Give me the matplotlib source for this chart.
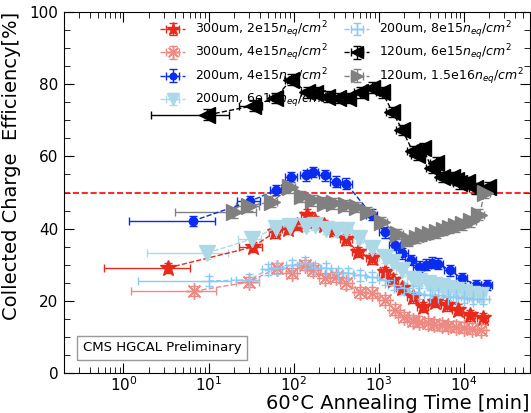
import numpy as np
import matplotlib
matplotlib.use("Agg")
import matplotlib.pyplot as plt
from matplotlib.ticker import MultipleLocator, LogLocator, NullFormatter

# ---- data (annealing time [min], collected charge efficiency [%]) ----
t_300_2e15 = [3.3, 33, 60, 85, 110, 142, 180, 230, 300, 418, 565, 828, 1170, 1460, 1860, 2500, 3300, 4550, 6300, 8500, 11700, 16700]
v_300_2e15 = [29.1, 34.9, 39.0, 40.0, 41.0, 43.8, 42.0, 41.0, 39.5, 37.0, 33.5, 31.8, 28.0, 25.8, 23.5, 21.0, 18.3, 19.7, 18.8, 17.5, 16.0, 15.2]

t_300_4e15 = [6.8, 30, 63, 95, 135, 167, 232, 318, 418, 596, 828, 1170, 1540, 2000, 2500, 3000, 3800, 4500, 5500, 6500, 8000, 10000, 12500, 16000]
v_300_4e15 = [22.7, 25.2, 29.1, 27.7, 29.9, 28.5, 26.3, 26.6, 24.9, 22.4, 22.2, 20.2, 17.5, 15.5, 14.5, 14.2, 13.8, 13.5, 13.2, 13.0, 12.8, 12.6, 12.3, 12.0]

t_200_4e15 = [6.5, 31, 62, 94, 138, 167, 232, 318, 418, 828, 1170, 1540, 1900, 2400, 3000, 3600, 4200, 5000, 6800, 9400, 14000, 18500]
v_200_4e15 = [42.1, 47.6, 50.7, 54.3, 54.8, 55.7, 54.8, 53.0, 52.4, 43.8, 39.0, 35.5, 33.2, 31.3, 29.4, 30.0, 30.5, 30.3, 28.5, 26.3, 24.4, 24.4]

t_200_6e15 = [9.5, 32, 62, 90, 138, 177, 240, 320, 418, 580, 828, 1170, 1460, 1860, 2500, 3000, 3800, 4500, 5500, 6500, 8000, 10000, 12500, 16000]
v_200_6e15 = [33.2, 37.1, 40.2, 40.7, 40.8, 41.0, 40.0, 39.5, 39.6, 37.4, 34.5, 32.0, 30.7, 28.5, 26.0, 25.5, 25.0, 24.5, 24.0, 23.5, 23.0, 22.5, 22.0, 21.5]

t_200_8e15 = [10, 30, 50, 63, 95, 135, 180, 240, 330, 430, 600, 830, 1170, 1500, 2000, 2500, 3000, 4000, 5000, 6500, 8000, 10000, 13000, 17000]
v_200_8e15 = [25.5, 25.8, 28.7, 29.0, 29.9, 30.5, 29.0, 29.0, 27.7, 27.7, 27.1, 26.6, 25.8, 24.5, 23.5, 22.5, 22.0, 21.5, 21.5, 21.0, 21.0, 20.8, 20.5, 20.5]

t_120_6e15 = [9.7, 33, 61, 94, 142, 177, 245, 330, 430, 595, 830, 1100, 1450, 1900, 2500, 2800, 3300, 4200, 4700, 5600, 7200, 8200, 8900, 10800, 13400, 19000]
v_120_6e15 = [71.5, 74.0, 76.2, 81.3, 77.8, 77.6, 76.5, 76.2, 76.2, 77.8, 79.0, 77.8, 72.3, 67.3, 61.5, 60.4, 62.3, 56.8, 58.2, 54.3, 54.3, 53.5, 52.6, 52.9, 51.2, 51.5]

t_120_15e15 = [20, 30, 56, 90, 124, 167, 232, 300, 418, 550, 740, 1100, 1670, 2300, 2800, 3300, 4000, 4800, 5800, 6800, 8200, 9800, 12000, 15200, 17700]
v_120_15e15 = [44.5, 46.3, 47.4, 51.5, 49.0, 47.8, 47.2, 47.0, 46.5, 46.0, 44.6, 41.8, 38.5, 36.8, 37.5, 38.2, 38.5, 39.0, 39.6, 40.2, 40.6, 41.2, 42.0, 43.8, 50.0]

labels = [
    r"300um, 2e15$n_{eq}/cm^2$",
    r"300um, 4e15$n_{eq}/cm^2$",
    r"200um, 4e15$n_{eq}/cm^2$",
    r"200um, 6e15$n_{eq}/cm^2$",
    r"200um, 8e15$n_{eq}/cm^2$",
    r"120um, 6e15$n_{eq}/cm^2$",
    r"120um, 1.5e16$n_{eq}/cm^2$",
]
first_xerr_frac = [0.82, 0.82, 0.82, 0.80, 0.85, 0.78, 0.80]

series = [
    (t_300_2e15, v_300_2e15, "#e8291c", "*", 12),
    (t_300_4e15, v_300_4e15, "#ec8a84", (8, 2, 0), 12),
    (t_200_4e15, v_200_4e15, "#0a2cf0", "o", 6),
    (t_200_6e15, v_200_6e15, "#add8e6", "v", 11),
    (t_200_8e15, v_200_8e15, "#8ccaf5", "+", 11),
    (t_120_6e15, v_120_6e15, "black", "<", 11),
    (t_120_15e15, v_120_15e15, "#808080", ">", 11),
]

W, H = 531, 413
fig = plt.figure(figsize=(W / 100, H / 100), dpi=100)
ax = fig.add_axes([64 / W, 1 - 373 / H, (530 - 64) / W, (373 - 12) / H])

for (t, v, c, m, ms), lab, f0 in zip(series, labels, first_xerr_frac):
    t = np.array(t, float)
    v = np.array(v, float)
    xerr = 0.15 * t
    xerr[0] = f0 * t[0]
    if len(t) > 1:
        xerr[1] = 0.3 * t[1]
    ax.errorbar(t, v, xerr=xerr, yerr=1.5, color=c, ecolor=c, marker=m, ms=ms,
                ls="--", lw=1.0, elinewidth=1.0, capsize=3, label=lab, zorder=3)

ax.axhline(50, color="red", ls="--", lw=1.2, zorder=2)

ax.set_xscale("log")
ax.set_xlim(0.2, 6e4)
ax.set_ylim(0, 100)
ax.yaxis.set_major_locator(MultipleLocator(20))
ax.yaxis.set_minor_locator(MultipleLocator(5))
ax.xaxis.set_minor_locator(LogLocator(base=10, subs=np.arange(2, 10)))
ax.xaxis.set_minor_formatter(NullFormatter())
ax.tick_params(which="both", direction="in", top=True, right=True, labelsize=11)
ax.tick_params(axis="y", which="major", length=7, pad=4)
ax.tick_params(axis="x", which="major", length=7, pad=2)
ax.tick_params(which="minor", length=4)

ax.set_xlabel("60°C Annealing Time [min]", fontsize=14, loc="right", labelpad=0)
ax.set_ylabel("Collected Charge  Efficiency[%]", fontsize=14, loc="top", labelpad=6)

ax.text(0.04, 0.07, "CMS HGCAL Preliminary", transform=ax.transAxes, fontsize=9.5,
        va="center", ha="left",
        bbox=dict(boxstyle="square,pad=0.4", fc="white", ec="#999999"))

ax.legend(loc="upper left", bbox_to_anchor=(0.19, 1.0), ncol=2, frameon=False,
          fontsize=9, columnspacing=1.3, handlelength=2.0, labelspacing=0.22,
          borderaxespad=0.2, markerscale=0.8, handletextpad=0.8)

fig.savefig("out.png", dpi=100)
